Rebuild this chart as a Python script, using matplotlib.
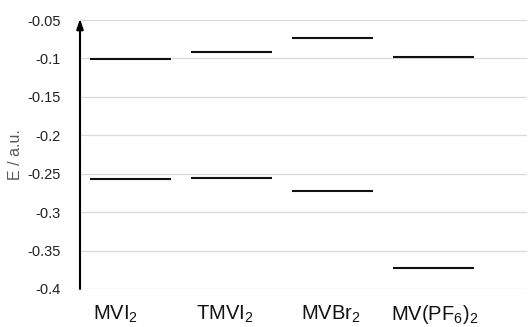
import matplotlib
matplotlib.use("Agg")
import matplotlib.pyplot as plt
import matplotlib.transforms as mtransforms

categories = [r'MVI$_\mathregular{2}$', r'TMVI$_\mathregular{2}$', r'MVBr$_\mathregular{2}$',
              r'MV(PF$_\mathregular{6}$)$_\mathregular{2}$']
upper_levels = [-0.101, -0.091, -0.074, -0.098]
lower_levels = [-0.257, -0.256, -0.273, -0.373]
yticks = [-0.4, -0.35, -0.3, -0.25, -0.2, -0.15, -0.1, -0.05]
ytick_labels = ['-0.4', '-0.35', '-0.3', '-0.25', '-0.2', '-0.15', '-0.1', '-0.05']

plt.rcParams['font.family'] = ['Liberation Sans', 'DejaVu Sans']
plt.rcParams['mathtext.fontset'] = 'custom'
plt.rcParams['mathtext.rm'] = 'Liberation Sans'

fig = plt.figure(figsize=(5.28, 3.27), dpi=100)
ax = fig.add_axes([80/528, 38/327, 447/528, 269/327])

xs = [1, 2, 3, 4]
label_x = [0.853, 1.936, 2.985, 4.015]
half = 0.405
for x, u, l in zip(xs, upper_levels, lower_levels):
    ax.hlines([u, l], x - half, x + half, colors='#111111', linewidth=1.5, zorder=3)

ax.set_ylim(-0.4, -0.05)
ax.set_xlim(0.5, 4.925)
ax.set_yticks(yticks)
ax.set_yticklabels(ytick_labels, fontsize=10.5, color='#222222')
ax.set_xticks([])
ax.tick_params(axis='both', length=0)
ax.tick_params(axis='y', pad=14)
ax.grid(axis='y', color='#d9d9d9', linewidth=0.9)
ax.set_axisbelow(True)
for s in ['top', 'right', 'left', 'bottom']:
    ax.spines[s].set_visible(False)

trans = mtransforms.blended_transform_factory(ax.transData, ax.transAxes)
for lx, lab in zip(label_x, categories):
    ax.annotate(lab, xy=(lx, 0), xycoords=trans, xytext=(0, -31 * 72 / 100),
                textcoords='offset points', ha='center', va='baseline',
                fontsize=14.5, color='#111111', annotation_clip=False)

ax.annotate('', xy=(0, 1.005), xytext=(0, 0), xycoords='axes fraction',
            arrowprops=dict(arrowstyle='-|>,head_length=0.6,head_width=0.2',
                            color='black', linewidth=1.5, shrinkA=0, shrinkB=0))

ax.set_ylabel('E / a.u.', fontsize=11.5, color='#595959', labelpad=3)

fig.savefig('out.png', dpi=100)
